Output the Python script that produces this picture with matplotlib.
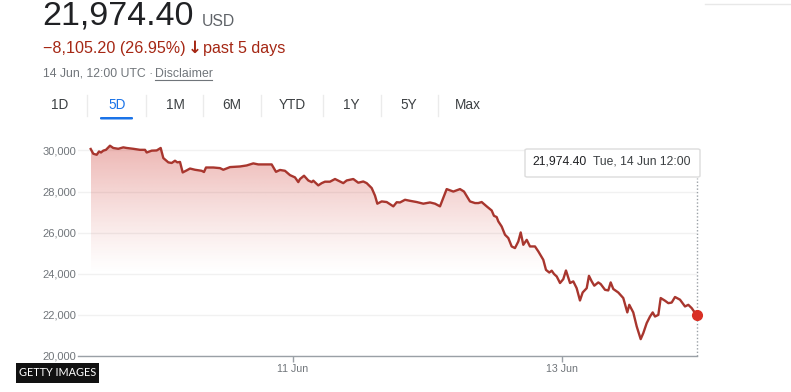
import numpy as np
import matplotlib
matplotlib.use("Agg")
import matplotlib.pyplot as plt
from matplotlib.patches import FancyBboxPatch, Rectangle

plt.rcParams['font.family'] = ['Liberation Sans', 'DejaVu Sans']

# hours since 9 Jun 12:00, price in USD
hours = [0, 0.46, 1.07, 1.48, 1.83, 2.24, 2.72, 3.43, 4.02, 4.91, 5.80, 6.41, 7.58, 8.78,
         9.67, 9.97, 10.86, 11.75, 12.46, 12.93, 13.82, 14.42, 15.01, 15.42, 15.90, 16.38,
         17.09, 17.68, 18.57, 19.76, 20.17, 20.53, 21.83, 23.02, 23.61, 24.80, 26.58, 27.77,
         28.95, 29.84, 31.33, 32.22, 32.99, 33.70, 34.59, 35.48, 36.37, 36.96, 37.26, 37.98,
         38.74, 39.35, 39.63, 40.52, 41.13, 41.71, 42.60, 43.50, 44.97, 45.58, 46.75, 47.64,
         48.53, 49.14, 50.03, 50.62, 51.03, 51.81, 52.70, 53.88, 54.48, 55.07, 55.96, 56.85,
         58.04, 59.22, 60.41, 61.30, 62.19, 63.38, 64.56, 65.75, 66.46, 67.53, 68.42, 69.01,
         69.61, 70.50, 71.39, 71.80, 72.28, 72.57, 73.17, 73.76, 74.35, 74.95, 75.54, 76.13,
         76.56, 77.02, 77.63, 78.21, 79.10, 79.69, 80.58, 81.06, 81.65, 82.08, 82.49, 82.97,
         83.56, 84.14, 84.62, 85.34, 85.92, 86.52, 87.11, 87.59, 88.31, 88.71, 89.20, 89.66,
         90.37, 90.80, 91.57, 92.15, 92.58, 93.04, 93.93, 94.82, 95.54, 95.89, 96.60, 97.21,
         97.92, 98.38, 98.99, 99.58, 100.06, 100.47, 101.06, 101.48, 102.25, 102.84, 103.44,
         104.03, 104.92, 105.81, 106.40, 107.00, 107.41, 108.0]
prices = [30070, 29840, 29790, 29950, 29900, 29990, 30030, 30230, 30120, 30080, 30150, 30120,
          30080, 30030, 30030, 29900, 29990, 30000, 30120, 29630, 29420, 29390, 29500, 29420,
          29440, 28930, 29030, 29120, 29060, 29010, 28950, 29170, 29170, 29140, 29060, 29190,
          29220, 29270, 29370, 29320, 29320, 29320, 28960, 29050, 29010, 28800, 28690, 28460,
          28610, 28770, 28540, 28460, 28530, 28300, 28410, 28480, 28480, 28610, 28410, 28540,
          28610, 28430, 28490, 28410, 28170, 27800, 27410, 27520, 27490, 27280, 27480, 27470,
          27600, 27550, 27490, 27410, 27470, 27410, 27280, 28120, 28000, 28120, 28000, 27520,
          27440, 27440, 27490, 27280, 27080, 26820, 26760, 26550, 26300, 25900, 25740, 25330,
          25250, 25570, 26010, 25410, 25650, 25330, 25330, 25090, 24680, 24190, 24060, 24150,
          23990, 23870, 23550, 23740, 24160, 23550, 23630, 23300, 22700, 23090, 23300, 23900,
          23630, 23420, 23580, 23500, 23220, 23190, 23580, 23260, 23090, 22820, 22120, 22490,
          22120, 21440, 20820, 21110, 21600, 21920, 22120, 21920, 22000, 22820, 22690, 22570,
          22600, 22870, 22740, 22410, 22490, 22330, 22170, 21974.40]

y_ticks = [20000, 22000, 24000, 26000, 28000, 30000]
x_ticks = [36, 84]
x_labels = ['11 Jun', '13 Jun']
tabs = ['1D', '5D', '1M', '6M', 'YTD', '1Y', '5Y', 'Max']

W, H = 791, 392
red = '#a52714'
line_red = '#a8362e'
grey = '#70757a'


def fx(px):
    return px / W


def fy(py):
    return 1 - py / H


fig = plt.figure(figsize=(W / 100, H / 100), dpi=100)
ax = fig.add_axes([fx(78), fy(356), fx(697.3) - fx(78), fy(134) - fy(356)])

x = np.array(hours)
y = np.array(prices)

# gradient fill under the line
poly = ax.fill_between(x, y, 20000, color='none', lw=0)
ys = np.linspace(20000, 30800, 300)
alpha = np.clip((ys - 24000) / (30200 - 24000), 0, 1) ** 1.2 * 0.38
rgba = np.zeros((300, 2, 4))
rgba[..., 0] = 208 / 255
rgba[..., 1] = 66 / 255
rgba[..., 2] = 58 / 255
rgba[..., 3] = alpha[:, None]
im = ax.imshow(rgba, extent=[x[0], x[-1], 20000, 30800], aspect='auto',
               origin='lower', zorder=1, interpolation='bilinear')
im.set_clip_path(poly.get_paths()[0], transform=ax.transData)

ax.plot(x, y, color=line_red, lw=1.7, zorder=3, solid_joinstyle='round')
ax.plot([x[-1]], [y[-1]], 'o', color='#d93025', ms=7, zorder=4, clip_on=False)
ax.plot([x[-1], x[-1]], [20000, 28670], color='#9aa0a6', lw=1, ls=(0, (1, 1.5)),
        zorder=2, clip_on=False)

ax.set_xlim(-2.26, 108)
ax.set_ylim(20000, 30800)
ax.set_yticks(y_ticks)
ax.set_yticklabels([f'{v:,}' for v in y_ticks])
ax.set_xticks(x_ticks)
ax.set_xticklabels(x_labels)
ax.tick_params(axis='y', length=0, pad=1, labelsize=8, labelcolor=grey)
ax.tick_params(axis='x', length=4, width=1, color='#9aa0a6', pad=2,
               labelsize=7.7, labelcolor=grey)
ax.grid(axis='y', color='#f1f1f1', lw=1)
ax.set_axisbelow(True)
for s in ['top', 'right', 'left']:
    ax.spines[s].set_visible(False)
ax.spines['bottom'].set_color('#9aa0a6')
ax.spines['bottom'].set_linewidth(1)

# header
fig.text(fx(42), fy(16), '21,974.40', fontsize=24.5, color='#202124', va='center')
fig.text(fx(202), fy(21), 'USD', fontsize=11.3, color='#5f6368', va='center')
fig.text(fx(43), fy(48), '\u22128,105.20 (26.95%)', fontsize=11.6, color=red, va='center')
fig.text(fx(188), fy(48), '\u2193', fontsize=12, color=red, va='center',
         fontweight='bold', family=['DejaVu Sans'])
fig.text(fx(203), fy(48), 'past 5 days', fontsize=11.6, color=red, va='center')
fig.text(fx(43), fy(74), '14 Jun, 12:00 UTC \u00b7 ', fontsize=8.8, color=grey, va='center')
fig.text(fx(155), fy(74), 'Disclaimer', fontsize=8.8, color=grey, va='center')
fig.add_artist(plt.Line2D([fx(155), fx(212)], [fy(80), fy(80)], color=grey, lw=0.8))

tab_x = [60, 117, 175, 232, 292, 351, 409, 468]
for t, px in zip(tabs, tab_x):
    c = '#1a73e8' if t == '5D' else '#3c4043'
    fig.text(fx(px), fy(105), t, fontsize=9.8, color=c, ha='center', va='center')
for px in [87, 146, 203, 261, 323, 381, 438]:
    fig.add_artist(plt.Line2D([fx(px), fx(px)], [fy(95), fy(116)], color='#ebebeb', lw=1))
fig.add_artist(FancyBboxPatch((fx(100), fy(119.5)), fx(33), 2.5 / H,
                              boxstyle='round,pad=0,rounding_size=0.002',
                              fc='#1a73e8', ec='none'))
fig.add_artist(plt.Line2D([fx(705), fx(791)], [fy(4), fy(4)], color='#e8e8e8', lw=1))

# tooltip
fig.add_artist(FancyBboxPatch((fx(525), fy(177)), fx(175), 28 / H,
                              boxstyle='round,pad=0,rounding_size=0.003',
                              fc='white', ec='#dcdcdc', lw=1, zorder=5))
fig.text(fx(532), fy(162), '21,974.40', fontsize=8.7, color='#202124', va='center', zorder=6)
fig.text(fx(593), fy(162), 'Tue, 14 Jun 12:00', fontsize=8.7, color='#3c4043',
         va='center', zorder=6)

# credit
fig.add_artist(Rectangle((fx(16), fy(382.5)), fx(83), 20 / H, fc='#111111', ec='none'))
fig.text(fx(57.5), fy(372.5), 'GETTY IMAGES', fontsize=7.8, color='white',
         ha='center', va='center', family=['Lato', 'DejaVu Sans'])

fig.savefig('out.png', dpi=100)
